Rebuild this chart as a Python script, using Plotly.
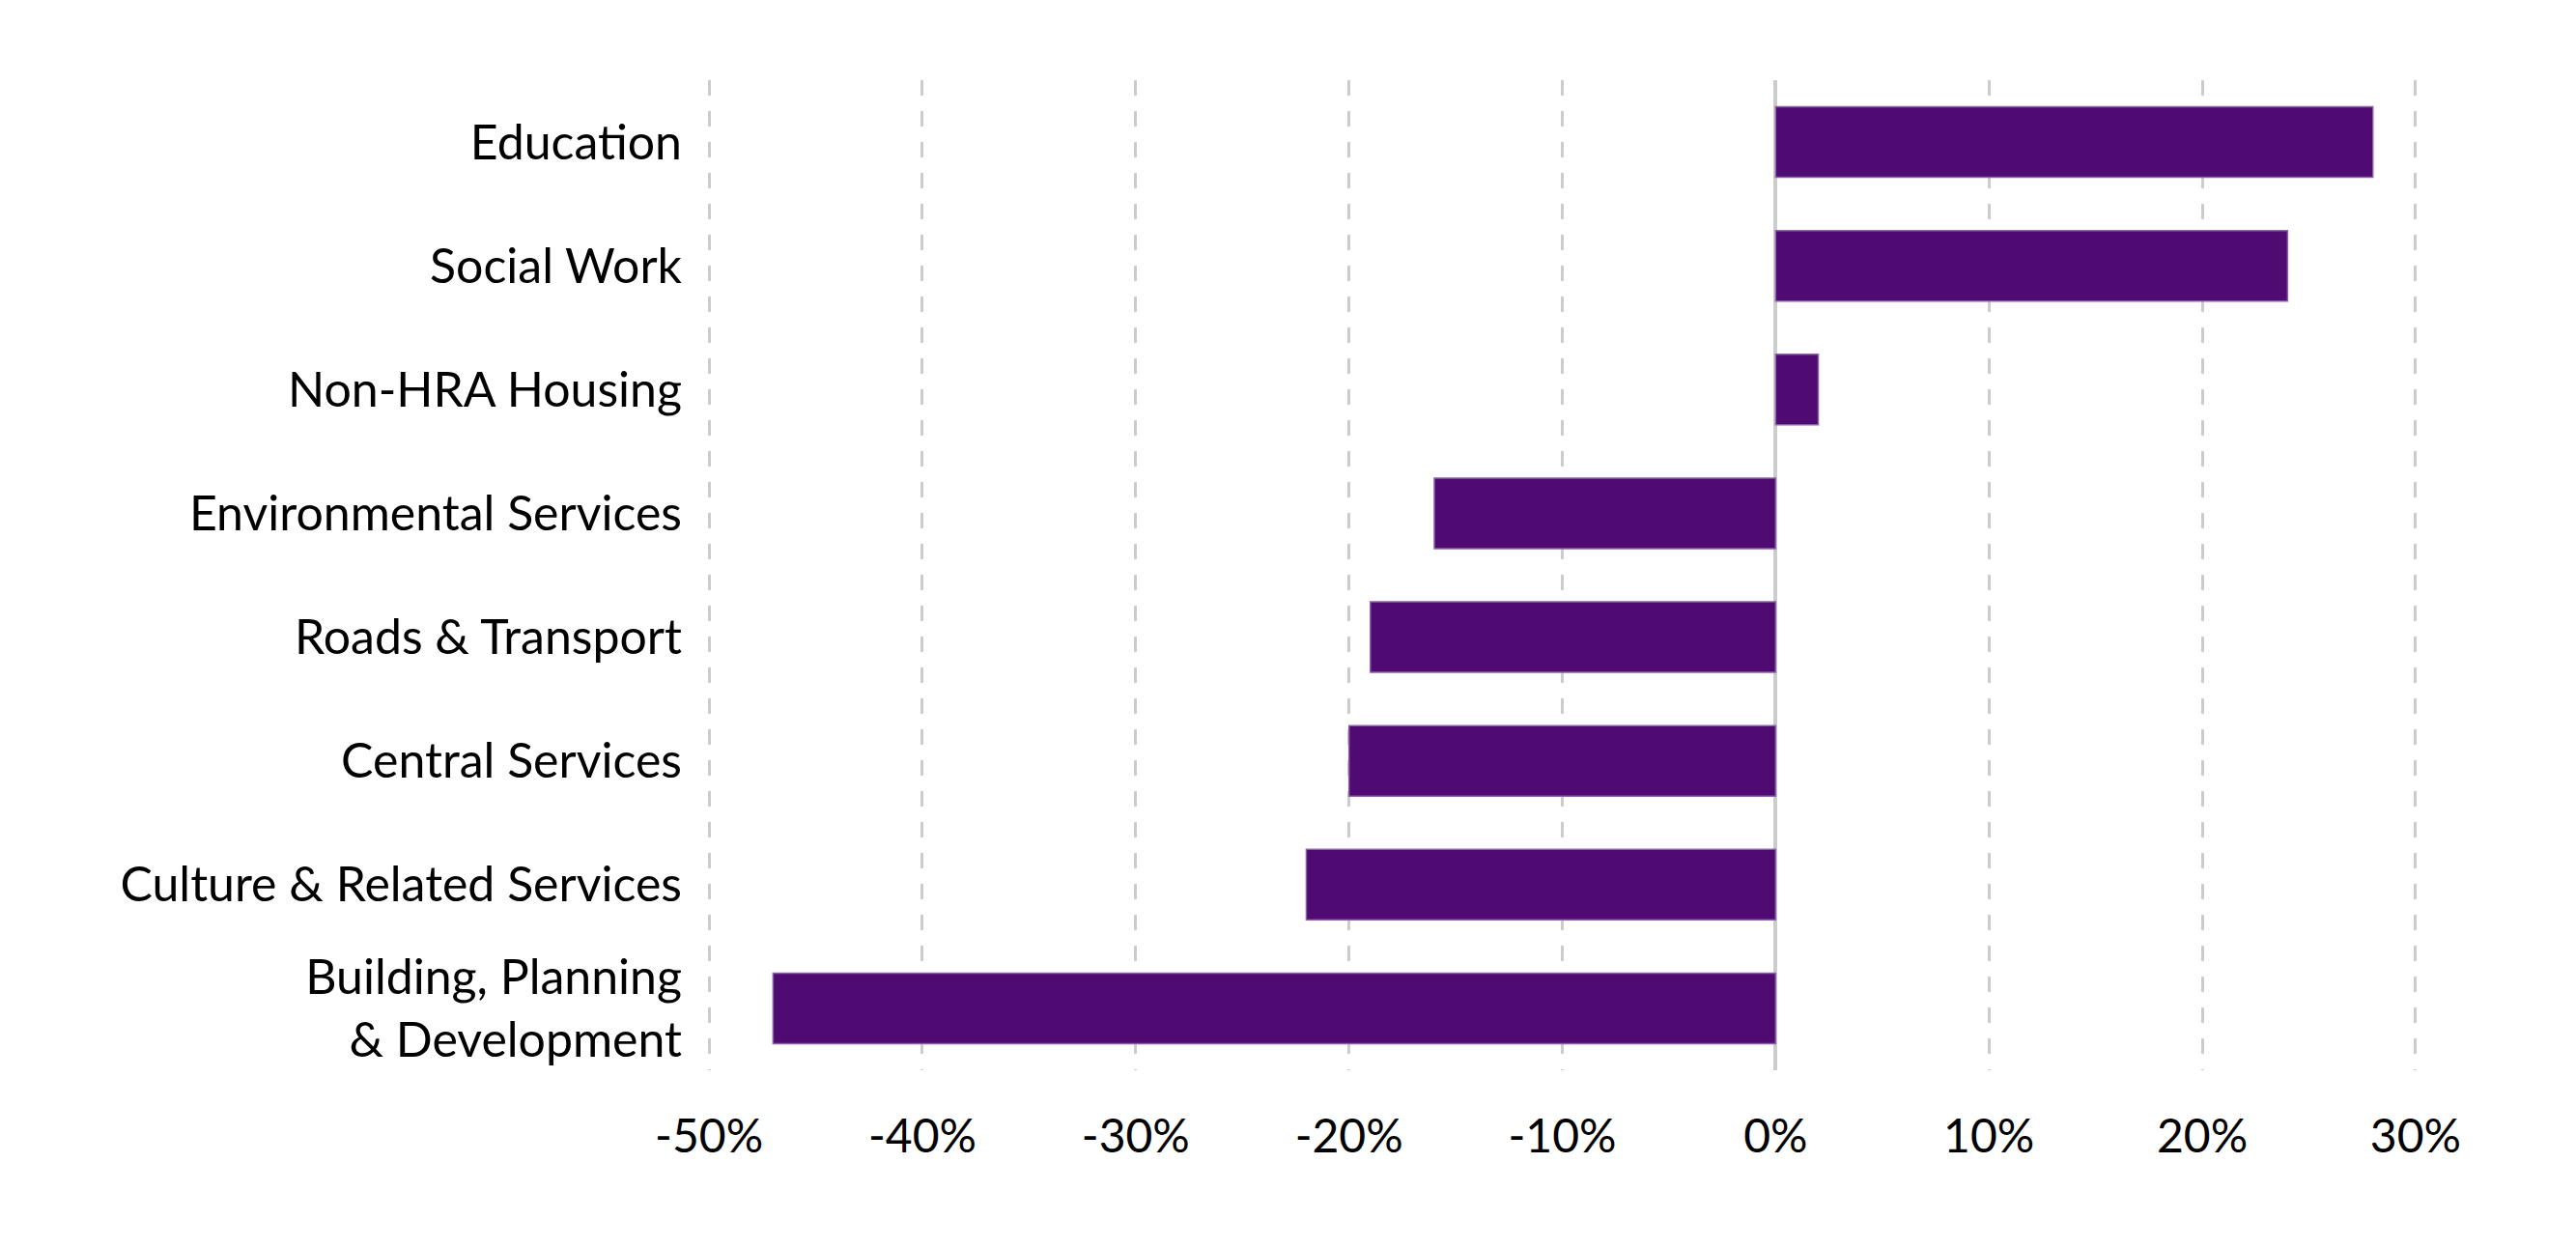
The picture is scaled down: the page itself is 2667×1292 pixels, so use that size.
import plotly.graph_objects as go

categories = ["Education", "Social Work", "Non-HRA Housing", "Environmental Services",
              "Roads & Transport", "Central Services", "Culture & Related Services",
              "Building, Planning<br>& Development"]
values = [28, 24, 2, -16, -19, -20, -22, -47]
x_ticks = [-50, -40, -30, -20, -10, 0, 10, 20, 30]
x_tick_labels = ["-50%", "-40%", "-30%", "-20%", "-10%", "0%", "10%", "20%", "30%"]

FONT = "Lato"

fig = go.Figure(go.Bar(
    x=values, y=categories, orientation="h",
    marker=dict(color="#500b72", line=dict(color="#8a63a6", width=1.5)),
    hoverinfo="skip",
))

fig.update_layout(
    width=2667, height=1292,
    paper_bgcolor="white", plot_bgcolor="white",
    margin=dict(l=725, r=173, t=75, b=192),
    bargap=0.43,
    showlegend=False,
    font=dict(family=FONT, size=50, color="black"),
)
fig.update_xaxes(
    range=[-50.05, 30.05], tickvals=x_ticks, ticktext=x_tick_labels,
    showgrid=True, gridcolor="#cccccc", gridwidth=3, griddash="16px,16px",
    zeroline=True, zerolinecolor="#cccccc", zerolinewidth=4,
    showline=False, ticks="", ticklabelstandoff=36,
    tickfont=dict(family=FONT, size=48, color="black"),
)
fig.update_yaxes(
    categoryorder="array", categoryarray=categories[::-1],
    showgrid=False, showline=False, ticks="", ticklabelstandoff=26,
    tickfont=dict(family=FONT, size=50, color="black"),
)

fig.write_html("out.html")
